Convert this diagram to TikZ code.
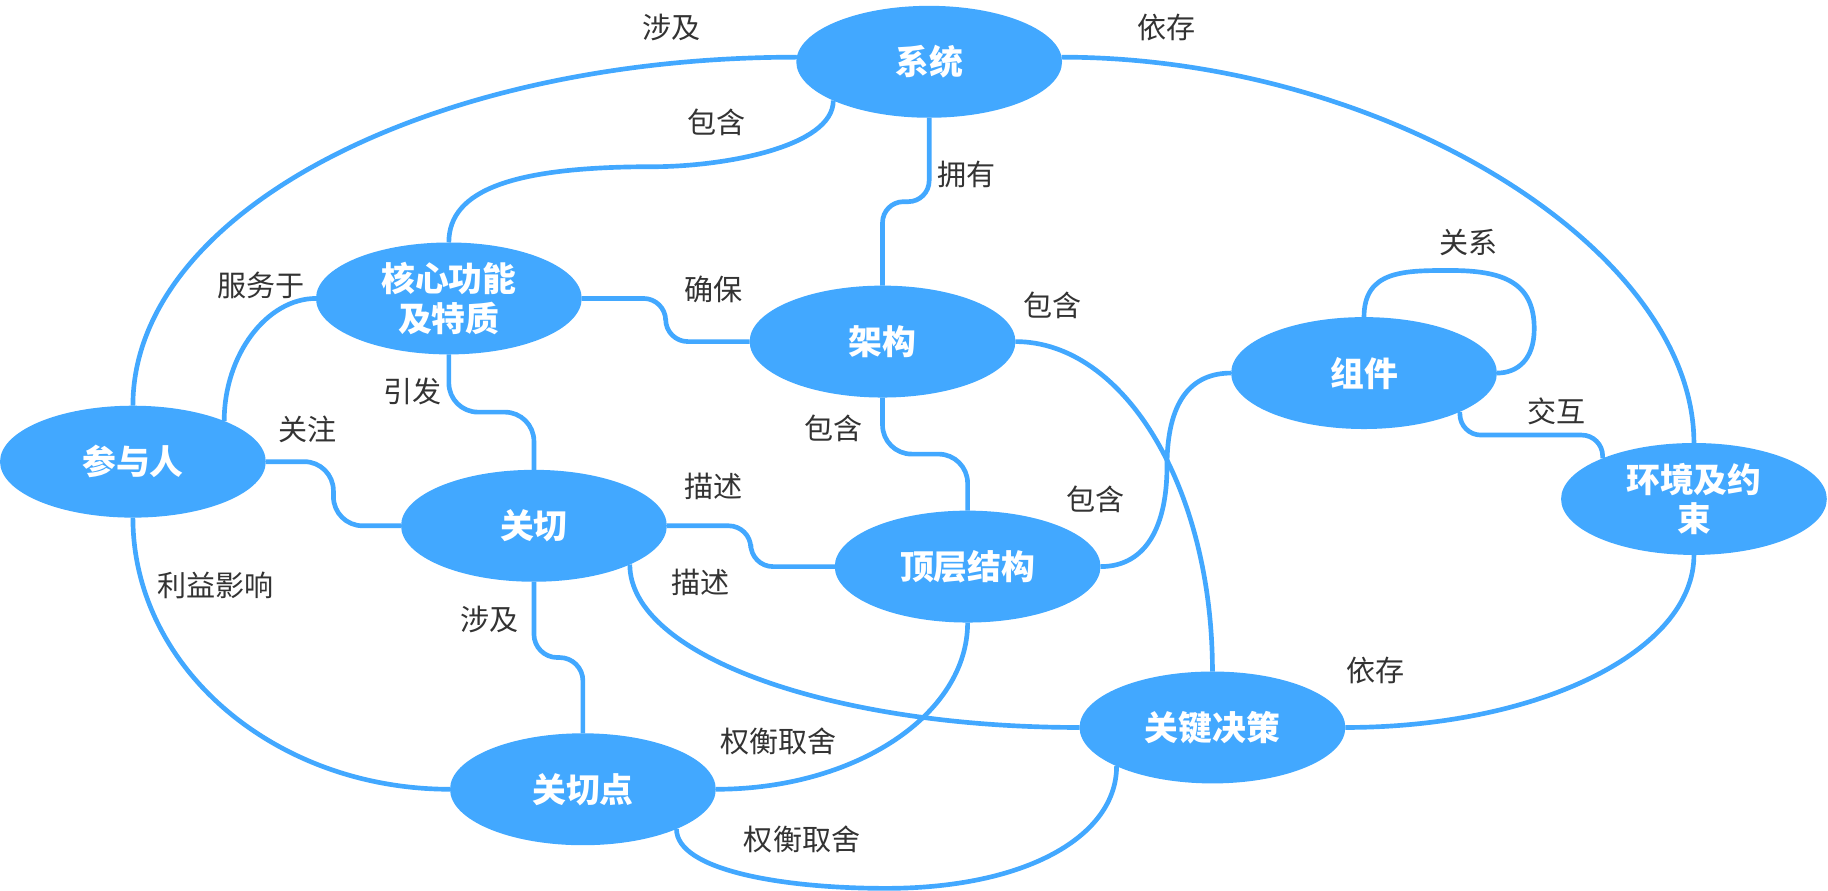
\documentclass[tikz,border=0pt]{standalone}
\usepackage{fontspec}
\newfontfamily\cjk{Noto Sans CJK SC}
\usetikzlibrary{shapes.geometric,calc}
\definecolor{mapblue}{RGB}{66,168,255}
\definecolor{lblgray}{RGB}{51,51,51}

\begin{document}
\begin{tikzpicture}[x=0.02cm,y=-0.02cm]

% Styles for topics, links and link labels
\tikzset{topic/.style={ellipse, fill=mapblue, text=white, minimum width=4.56cm,
        minimum height=1.92cm, inner sep=0pt, outer sep=0pt, align=center,
        font=\cjk\bfseries\fontsize{16.5}{19.5}\selectfont},
    linklabel/.style={text=lblgray, inner sep=1pt, font=\cjk\fontsize{14.2}{17}\selectfont},
    link/.style={draw=mapblue, line width=0.08cm},
    jog/.style={link, rounded corners=#1},
    jog/.default=0.36cm
}

\useasboundingbox (0,0) rectangle (1568,764);

% Topics
\node[topic] (xitong) at (797,53) {系统};
\node[topic] (hexin) at (385,256) {核心功能\\及特质};
\node[topic] (jiagou) at (757,293) {架构};
\node[topic] (zujian) at (1170,320) {组件};
\node[topic] (huanjing) at (1453,428) {环境及约\\束};
\node[topic] (canyu) at (114,396) {参与人};
\node[topic] (guanqie) at (458,451) {关切};
\node[topic] (dingceng) at (830,486) {顶层结构};
\node[topic] (guanqiedian) at (500,677) {关切点};
\node[topic] (juece) at (1040,624) {关键决策};

% Long curved links
\draw[link] (xitong.178) .. controls +(-315,0) and +(0,-166) .. (canyu.north);
\draw[link] (xitong.2) .. controls +(275,0) and +(0,-168) .. (huanjing.north);
\draw[link] (xitong.202) .. controls +(0,40) and +(60,0) .. (560,143)
    .. controls +(-120,0) and +(0,-45) .. (hexin.north);
\draw[link] (hexin.west) .. controls +(-42,0) and +(0,-57) .. (canyu.24);
\draw[link] (canyu.south) .. controls +(0,129) and +(-150,0) .. (guanqiedian.west);
\draw[link] (guanqie.-22) .. controls +(0,78) and +(-213,0) .. (juece.west);
\draw[link] (guanqiedian.east) .. controls +(120,0) and +(0,79) .. (dingceng.south);
\draw[link] (guanqiedian.-23) .. controls +(0,35) and +(-90,0) .. (760,762)
    .. controls +(120,0) and +(0,60) .. (juece.202);
\draw[link] (jiagou.east) .. controls +(93,0) and +(0,-158) .. (juece.north);
\draw[link] (dingceng.east) .. controls +(40,0) and +(0,50) .. (1001,400)
    .. controls +(0,-55) and +(-35,0) .. (zujian.west);
\draw[link] (huanjing.south) .. controls +(0,83) and +(165,0) .. (juece.east);

% Self loop on the component
\draw[link] (zujian.north) .. controls +(0,-40) and +(-40,0) .. (1244,232)
    .. controls +(45,0) and +(0,-40) .. (1316,282)
    .. controls +(0,26) and +(18,0) .. (zujian.east);

% Short links with a step in the middle
\foreach \a/\b/\r in {xitong/jiagou/0.36cm, hexin/guanqie/0.5cm,
        guanqie/guanqiedian/0.4cm, jiagou/dingceng/0.5cm}{
    \coordinate (mid) at ($(\a.south)!0.5!(\b.north)$);
    \draw[jog=\r] (\a.south) -- (\a.south |- mid) -- (\b.north |- mid) -- (\b.north);
}
\foreach \a/\b/\r in {hexin/jiagou/0.38cm, canyu/guanqie/0.5cm, guanqie/dingceng/0.38cm}{
    \coordinate (mid) at ($(\a.east)!0.5!(\b.west)$);
    \draw[jog=\r] (\a.east) -- (\a.east -| mid) -- (\b.west -| mid) -- (\b.west);
}
\coordinate (mid) at ($(zujian.-22)!0.5!(huanjing.156)$);
\draw[jog] (zujian.-22) -- (zujian.-22 |- mid) -- (huanjing.156 |- mid) -- (huanjing.156);

% Link labels
\node[linklabel] (l-sheji) at (576,24) {涉及};
\node[linklabel] (l-yicun) at (1001,24) {依存};
\node[linklabel] (l-baohan) at (615,105) {包含};
\node[linklabel] (l-yongyou) at (829,150) {拥有};
\node[linklabel] (l-fuwu) at (224,245) {服务于};
\node[linklabel] (l-quebao) at (612,248) {确保};
\node[linklabel] (l-baohan2) at (903,262) {包含};
\node[linklabel] (l-guanxi) at (1260,208) {关系};
\node[linklabel] (l-yinfa) at (354,336) {引发};
\node[linklabel] (l-guanzhu) at (264,368) {关注};
\node[linklabel] (l-baohan3) at (715,367) {包含};
\node[linklabel] (l-jiaohu) at (1335,353) {交互};
\node[linklabel] (l-miaoshu) at (612,417) {描述};
\node[linklabel] (l-baohan4) at (940,428) {包含};
\node[linklabel] (l-liyi) at (185,502) {利益影响};
\node[linklabel] (l-miaoshu2) at (601,500) {描述};
\node[linklabel] (l-sheji2) at (420,531) {涉及};
\node[linklabel] (l-yicun2) at (1180,575) {依存};
\node[linklabel] (l-quanheng) at (668,636) {权衡取舍};
\node[linklabel] (l-quanheng2) at (688,720) {权衡取舍};

\end{tikzpicture}
\end{document}
